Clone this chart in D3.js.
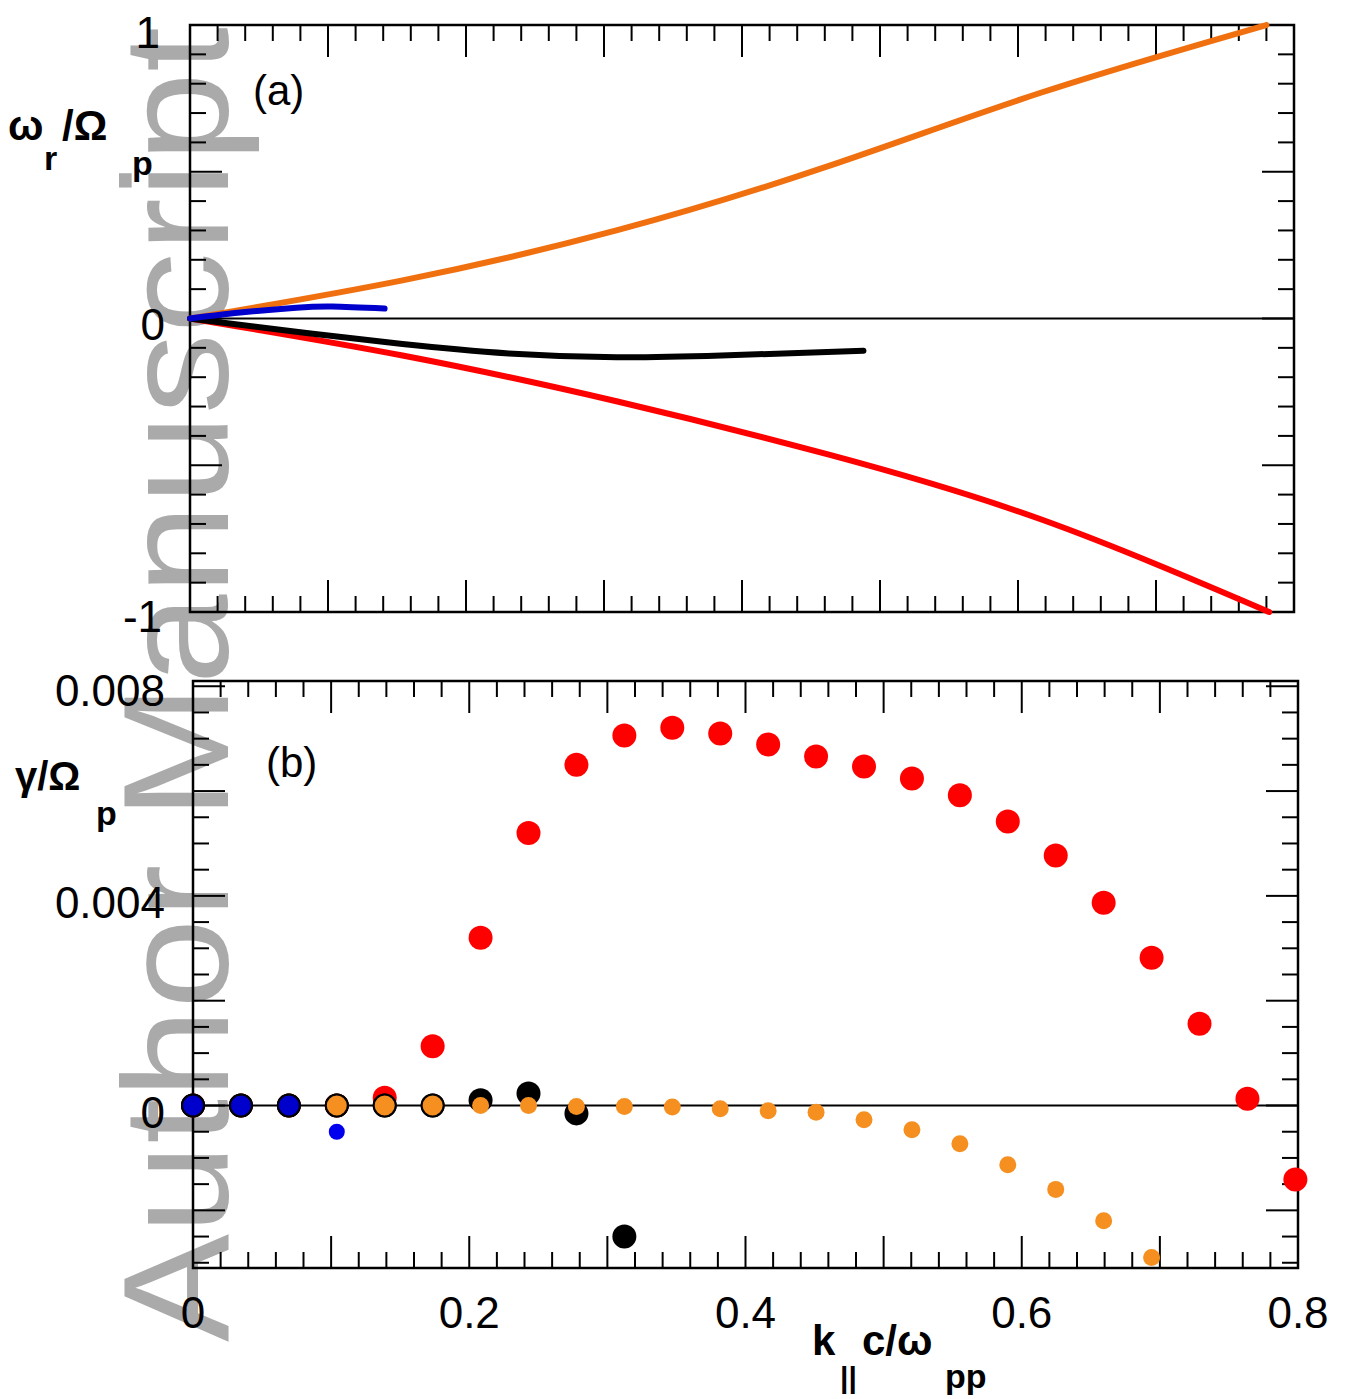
<!DOCTYPE html>
<html><head><meta charset="utf-8">
<script src="https://cdn.jsdelivr.net/npm/d3@7"></script>
<style>body{margin:0;background:#fff}text{font-family:"Liberation Sans",Arial,sans-serif}</style>
</head><body>
<script>
// Panel (a) dispersion curves
const orangeA = [[0,0],[0.154,0.13],[0.309,0.3],[0.463,0.52],[0.617,0.77],[0.78,1.0]];
const redA = [[0,0],[0.154,-0.126],[0.309,-0.282],[0.463,-0.464],[0.617,-0.685],[0.782,-1.0]];
const blackA = [[0,0],[0.077,-0.045],[0.154,-0.087],[0.231,-0.119],[0.309,-0.132],[0.385,-0.126],[0.488,-0.11]];
const blueA = [[0,0],[0.04,0.022],[0.077,0.037],[0.103,0.041],[0.141,0.034]];
// Panel (b) growth rates
const kB = [0,0.0347,0.0694,0.1041,0.1388,0.1735,0.2082,0.2429,0.2776,0.3123,0.347,0.3817,0.4164,0.4511,0.4858,0.5205,0.5552,0.5899,0.6246,0.6593,0.694,0.7287,0.7634,0.7981];
const redB = [0,0,0,0,0.00015,0.00113,0.0032,0.0052,0.0065,0.00706,0.00721,0.0071,0.00689,0.00666,0.00647,0.00624,0.00592,0.00542,0.00477,0.00387,0.00282,0.00156,0.00013,-0.00141];
const blackB = [0,0,0,0,0,0,0.0001,0.00023,-0.00015,-0.0025];
const blueB = [0,0,0,-0.0005];
const orangeB = [null,null,null,0,0,0,0,0,-0.00002,-0.00002,-0.00003,-0.00006,-0.0001,-0.00013,-0.00027,-0.00046,-0.00073,-0.00113,-0.0016,-0.0022,-0.0029];

const W=1353,H=1399;
const svg=d3.select("body").append("svg").attr("width",W).attr("height",H);

svg.append("text").attr("transform","translate(228,1342) rotate(-90)")
  .attr("font-size",150).attr("fill","#aaaaaa").attr("textLength",1315).attr("lengthAdjust","spacingAndGlyphs")
  .text("Author Manuscript");

const xa=d3.scaleLinear().domain([0,0.8]).range([190,1294]);
const ya=d3.scaleLinear().domain([-1,1]).range([612,25]);
const xb=d3.scaleLinear().domain([0,0.8]).range([193,1298]);
const yb=d3.scaleLinear().domain([-0.0031,0.0081]).range([1268,681]);

function frame(x,y,yMinor,yMajor){
  const [x0,x1]=x.range(),[y1,y0]=y.range();
  const g=svg.append("g");
  g.append("rect").attr("x",x0).attr("y",y0).attr("width",x1-x0).attr("height",y1-y0).attr("fill","none").attr("stroke","#000").attr("stroke-width",2.5);
  const xt=d3.range(0,0.8001,0.02);
  xt.forEach((t,i)=>{const L=(i%5===0)?32:16;
    g.append("line").attr("x1",x(t)).attr("x2",x(t)).attr("y1",y1).attr("y2",y1-L).attr("stroke","#000").attr("stroke-width",2);
    g.append("line").attr("x1",x(t)).attr("x2",x(t)).attr("y1",y0).attr("y2",y0+L).attr("stroke","#000").attr("stroke-width",2);});
  yMinor.forEach(t=>{const L=(yMajor.some(m=>Math.abs(m-t)<1e-9))?32:16;
    g.append("line").attr("x1",x0).attr("x2",x0+L).attr("y1",y(t)).attr("y2",y(t)).attr("stroke","#000").attr("stroke-width",2);
    g.append("line").attr("x1",x1).attr("x2",x1-L).attr("y1",y(t)).attr("y2",y(t)).attr("stroke","#000").attr("stroke-width",2);});
  g.append("line").attr("x1",x0).attr("x2",x1).attr("y1",y(0)).attr("y2",y(0)).attr("stroke","#000").attr("stroke-width",2);
}
frame(xa,ya,d3.range(-10,11).map(v=>v/10),[-1,-0.5,0,0.5,1]);
frame(xb,yb,d3.range(-6,17).map(v=>v*0.0005),[-0.002,0,0.002,0.004,0.006,0.008]);

const line=d3.line().x(d=>xa(d[0])).y(d=>ya(d[1])).curve(d3.curveNatural);
[[orangeA,"#f07010"],[redA,"#ff0000"],[blackA,"#000"],[blueA,"#0000cc"]].forEach(([d,c])=>
  svg.append("path").attr("d",line(d)).attr("fill","none").attr("stroke",c).attr("stroke-width",6).attr("stroke-linecap","round"));

const dots=svg.append("g");
function pts(vals,color,r,stroke){
  vals.forEach((v,i)=>{if(v===null)return;
    dots.append("circle").attr("cx",xb(kB[i])).attr("cy",yb(v)).attr("r",r).attr("fill",color)
     .attr("stroke",stroke||"none").attr("stroke-width",stroke?2:0);});
}
pts(redB,"#ff0000",12);
pts(blackB,"#000000",12);
pts(blueB.slice(0,3),"#0000cc",11,"#000");
pts([null,null,null,blueB[3]],"#0000ee",8);
pts(orangeB.map((v,i)=>i<6?v:null),"#f59020",11,"#000");
pts(orangeB.map((v,i)=>i>=6?v:null),"#f59020",8.5);

const tl=(x,y,s,anchor)=>svg.append("text").attr("x",x).attr("y",y).attr("font-size",44).attr("text-anchor",anchor||"end").text(s);
tl(160,48,"1");tl(165,340,"0");tl(162,632,"-1");
tl(165,706,"0.008");tl(165,918,"0.004");tl(165,1128,"0");
[0,0.2,0.4,0.6,0.8].forEach(t=>tl(xb(t),1328,t===0?"0":String(t),"middle"));

svg.append("text").attr("x",253).attr("y",105).attr("font-size",42).text("(a)");
svg.append("text").attr("x",266).attr("y",777).attr("font-size",42).text("(b)");

const at=(x,y,s,fs,w)=>svg.append("text").attr("x",x).attr("y",y).attr("font-size",fs).attr("font-weight",w||"bold").text(s);
at(8,140,"ω",42);at(44,170,"r",34);at(62,140,"/Ω",42);at(132,175,"p",34);
at(15,790,"γ/Ω",40);at(96,825,"p",34);
at(812,1355,"k",42);at(840,1388,"||",30);at(862,1355,"c/ω",42);at(945,1388,"pp",34);
</script>
</body></html>
